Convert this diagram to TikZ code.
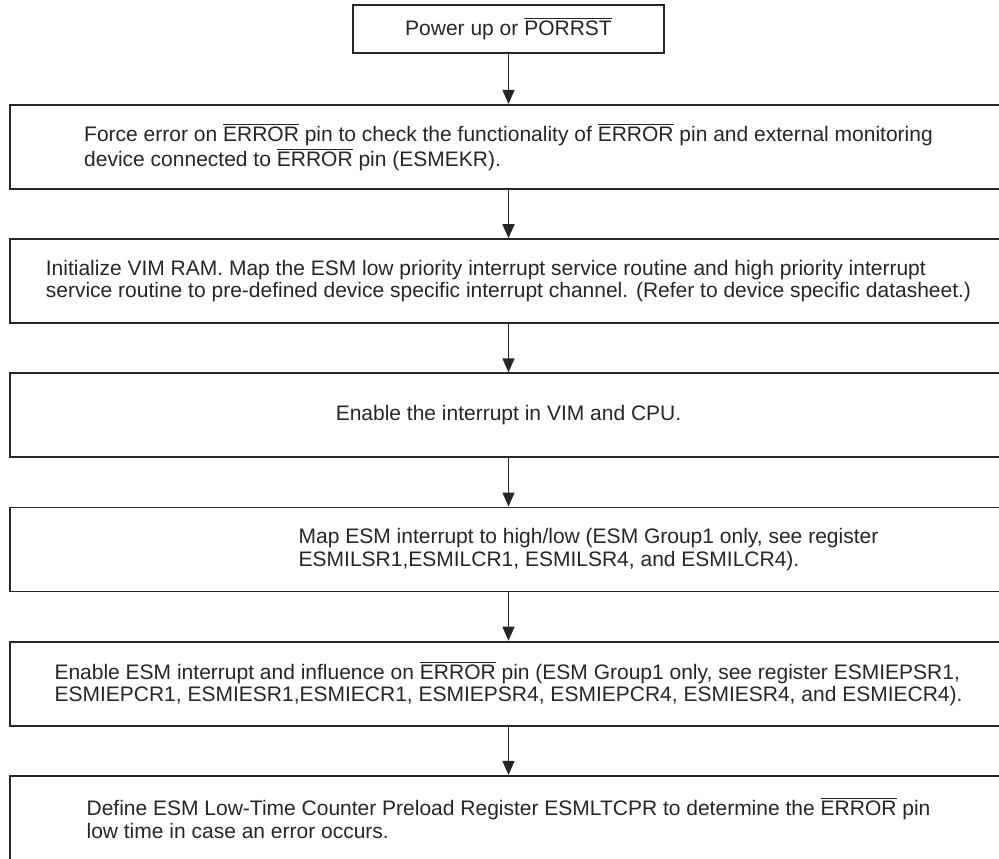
\documentclass[tikz,border=0pt]{standalone}
\usepackage{fontspec}
\setmainfont{Liberation Sans}
\usetikzlibrary{arrows.meta,positioning}
\newcommand{\pinbar}[1]{$\overline{\mbox{#1}}$}
\definecolor{inkgray}{RGB}{38,38,38}
\begin{document}
\begin{tikzpicture}[
  esmbox/.style={draw=inkgray, line width=1.1pt, minimum width=19.94cm,
    minimum height=1.68cm, align=left, text=inkgray, inner sep=0pt,
    font=\fontsize{11.95}{12.8}\selectfont},
  esmarrow/.style={draw=inkgray, line width=0.8pt,
    -{Triangle[length=0.28cm,width=0.24cm]}},
  node distance=0.965cm]
  % page frame
  \clip (0,0) rectangle (19.98,-17.16);
  % start
  \node[esmbox, minimum width=6.22cm, minimum height=0.96cm] (b0) at (10.17,-0.58)
    {Power up or \pinbar{PORRST}};
  % steps
  \node[esmbox, below=1.0cm of b0] (b1)
    {Force error on \pinbar{ERROR} pin to check the functionality of \pinbar{ERROR} pin and external monitoring\\
     device connected to \pinbar{ERROR} pin (ESMEKR).};
  \node[esmbox, below=of b1] (b2)
    {Initialize VIM RAM. Map the ESM low priority interrupt service routine and high priority interrupt\\
     service routine to pre-defined device specific interrupt channel. (Refer to device specific datasheet.)};
  \node[esmbox, below=of b2] (b3)
    {Enable the interrupt in VIM and CPU.};
  \node[esmbox, below=of b3] (b4)
    {\hspace*{3.2cm}Map ESM interrupt to high/low (ESM Group1 only, see register\\
     \hspace*{3.2cm}ESMILSR1,ESMILCR1, ESMILSR4, and ESMILCR4).};
  \node[esmbox, below=of b4] (b5)
    {Enable ESM interrupt and influence on \pinbar{ERROR} pin (ESM Group1 only, see register ESMIEPSR1,\\
     ESMIEPCR1, ESMIESR1,ESMIECR1, ESMIEPSR4, ESMIEPCR4, ESMIESR4, and ESMIECR4).};
  \node[esmbox, below=of b5] (b6)
    {Define ESM Low-Time Counter Preload Register ESMLTCPR to determine the \pinbar{ERROR} pin\\
     low time in case an error occurs.};
  % arrows
  \foreach \a/\b in {b0/b1,b1/b2,b2/b3,b3/b4,b4/b5,b5/b6} {
    \draw[esmarrow] (\a.south) -- (\b.north);
  }
\end{tikzpicture}
\end{document}
